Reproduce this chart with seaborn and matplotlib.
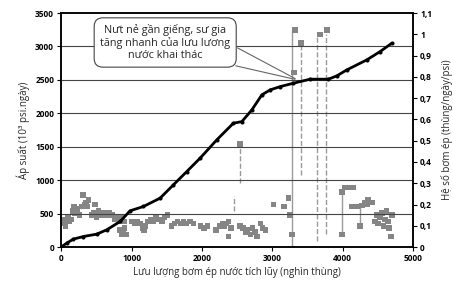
import matplotlib
matplotlib.use("Agg")
import matplotlib.pyplot as plt
import seaborn as sns
import pandas as pd

# ---- data ----
cum_x = [0, 80, 175, 317, 507, 649, 838, 980, 1169, 1406, 1595, 1785, 1974, 2211,
         2447, 2567, 2709, 2851, 2969, 3111, 3300, 3537, 3797, 3916, 4058, 4342,
         4531, 4697]
cum_y = [0, 60, 120, 158, 194, 259, 383, 543, 607, 732, 931, 1130, 1330, 1604,
         1853, 1877, 2052, 2277, 2351, 2400, 2451, 2511, 2511, 2561, 2650, 2800,
         2924, 3049]

inj_x = [20, 40, 60, 80, 100, 120, 140, 160, 180, 200, 230, 260, 290, 310, 330,
         350, 370, 390, 430, 460, 483, 500, 530, 560, 600, 640, 680, 720, 760,
         790, 820, 850, 870, 900, 830, 860, 880, 900, 920, 1000, 1040, 1080, 1120,
         1160, 1180, 1200, 1230, 1270, 1310, 1350, 1390, 1430, 1470, 1510, 1570,
         1610, 1650, 1700, 1740, 1780, 1830, 1880, 1980, 2030, 2080, 2200, 2260,
         2300, 2320, 2350, 2377, 2380, 2410, 2543, 2580, 2620, 2650, 2690, 2720,
         2750, 2780, 2830, 2860, 2900, 3016, 3168, 3229, 3253, 3277, 3310, 3324,
         3409, 3679, 3774, 3987, 4034, 4080, 4120, 4152, 3987, 4130, 4200, 4270,
         4342, 4247, 4310, 4360, 4420, 4460, 4480, 4500, 4530, 4560, 4580, 4600,
         4620, 4640, 4660, 4683, 4697, 2543]
inj_v = [0.11, 0.13, 0.10, 0.12, 0.14, 0.12, 0.13, 0.17, 0.19, 0.16, 0.18, 0.15,
         0.19, 0.245, 0.20, 0.21, 0.19, 0.22, 0.15, 0.16, 0.20, 0.14, 0.17, 0.15,
         0.16, 0.15, 0.16, 0.15, 0.13, 0.14, 0.12, 0.13, 0.14, 0.12, 0.08, 0.06,
         0.07, 0.09, 0.06, 0.12, 0.11, 0.12, 0.11, 0.09, 0.08, 0.10, 0.12, 0.13,
         0.12, 0.14, 0.13, 0.12, 0.14, 0.15, 0.10, 0.11, 0.12, 0.11, 0.12, 0.11,
         0.12, 0.11, 0.10, 0.09, 0.10, 0.08, 0.10, 0.11, 0.10, 0.11, 0.05, 0.12,
         0.09, 0.10, 0.09, 0.07, 0.08, 0.06, 0.09, 0.07, 0.05, 0.11, 0.09, 0.08,
         0.20, 0.19, 0.23, 0.15, 0.06, 0.82, 1.02, 0.96, 1.00, 1.02, 0.26, 0.28,
         0.28, 0.28, 0.28, 0.06, 0.19, 0.19, 0.195, 0.20, 0.10, 0.21, 0.22, 0.21,
         0.12, 0.15, 0.11, 0.14, 0.16, 0.10, 0.13, 0.17, 0.12, 0.09, 0.05, 0.15,
         0.485]

spike_x = [3277, 3409, 3632, 3764, 3987, 2543, 2462, 4247]
spike_lo = [0.0, 0.34, 0.03, 0.06, 0.05, 0.30, 0.17, 0.10]
spike_hi = [1.02, 0.96, 0.99, 1.00, 0.26, 0.485, 0.24, 0.19]
spike_ls = ["-", "--", "--", "--", "-", "--", "--", "-"]

left_ticks = [0, 500, 1000, 1500, 2000, 2500, 3000, 3500]
right_ticks = [0, 0.1, 0.2, 0.3, 0.4, 0.5, 0.6, 0.7, 0.8, 0.9, 1.0, 1.1]
right_labels = ["0", "0,1", "0,2", "0,3", "0,4", "0,5", "0,6", "0,7", "0,8",
                "0,9", "1", "1,1"]
x_ticks = [0, 1000, 2000, 3000, 4000, 5000]

note = "Nưt nẻ gần giếng, sư gia\ntăng nhanh của lưu lương\nnước khai thác"
note_xy = (1478, 3060)
note_target = (3360, 2500)

sns.set_style("white")
plt.rcParams["font.family"] = ["Open Sans", "DejaVu Sans"]

fig = plt.figure(figsize=(4.53, 2.84), dpi=100)
ax = fig.add_axes([0.135, 0.130, 0.777, 0.824])
ax2 = ax.twinx()

# gray injectivity points + spikes (right axis)
for xs, lo, hi, ls in zip(spike_x, spike_lo, spike_hi, spike_ls):
    ax2.vlines(xs, lo, hi, colors="#9a9a9a", linestyles=ls, lw=1.0, zorder=1)
df_inj = pd.DataFrame({"x": inj_x, "v": inj_v})
sns.scatterplot(data=df_inj, x="x", y="v", ax=ax2, marker="s", s=16,
                color="#858585", edgecolor="none", zorder=2)

# cumulative pressure line (left axis)
df_cum = pd.DataFrame({"x": cum_x, "y": cum_y})
sns.lineplot(data=df_cum, x="x", y="y", ax=ax, color="black", lw=2.0,
             marker="o", markersize=2.2, markeredgecolor="black", zorder=5)

ax.set_zorder(ax2.get_zorder() + 1)
ax.patch.set_visible(False)

ax.set_xlim(0, 5000)
ax.set_ylim(0, 3500)
ax2.set_ylim(0, 1.1)
ax.set_xticks(x_ticks)
ax.set_xticklabels([str(t) for t in x_ticks], fontsize=6, fontweight="bold")
ax.set_yticks(left_ticks)
ax.set_yticklabels([str(t) for t in left_ticks], fontsize=6, fontweight="bold")
ax2.set_yticks(right_ticks)
ax2.set_yticklabels(right_labels, fontsize=6, fontweight="bold")
for t in left_ticks[1:-1]:
    ax.axhline(t, color="#444444", lw=0.8, zorder=0)

ax.tick_params(axis="both", length=3, width=0.8, pad=2, colors="black")
ax2.tick_params(axis="y", length=3, width=0.8, pad=2, colors="black")
ax.tick_params(axis="x", direction="out", bottom=True)
ax.tick_params(axis="y", left=True)
ax2.tick_params(axis="y", right=True)

ax.set_xlabel("Lưu lượng bơm ép nước tích lũy (nghìn thùng)", fontsize=7, labelpad=3)
ax.set_ylabel("Áp suất (10³ psi.ngày)", fontsize=7, labelpad=4)
ax2.set_ylabel("Hệ số bơm ép (thùng/ngày/psi)", fontsize=7, labelpad=6)
ax2.set_xlabel("")

for a in (ax, ax2):
    for s in a.spines.values():
        s.set_color("black")
        s.set_linewidth(1.1)

# annotation box with two callout lines
ax.annotate("", xy=note_target, xytext=(2472, 2998),
            arrowprops=dict(arrowstyle="-", color="#666666", lw=0.8))
ax.annotate("", xy=note_target, xytext=(2443, 2720),
            arrowprops=dict(arrowstyle="-", color="#666666", lw=0.8))
ax.text(note_xy[0], note_xy[1], note, ha="center", va="center", fontsize=7.8,
        linespacing=1.15, zorder=10,
        bbox=dict(boxstyle="round,pad=0.55,rounding_size=0.8", fc="white",
                  ec="#444444", lw=0.8))

fig.savefig("out.png", dpi=100)
